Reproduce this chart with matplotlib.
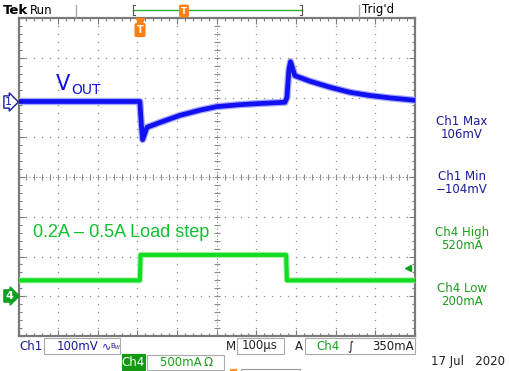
import numpy as np
import matplotlib
matplotlib.use('agg')
import matplotlib.pyplot as plt

plt.rcParams['font.family'] = ['DejaVu Sans']

# screen settings
ch1_scale = 100.0     # mV/div
ch4_scale = 500.0     # mA/div
time_scale = 100.0    # us/div
pre_trigger = 306.0   # us left of trigger
ch1_offset = 1.9      # div
ch4_offset = -3.0     # div

# Ch1 (Vout, AC) in mV vs time in us
t_ch1 = [-306, 0, 4, 7, 18, 50, 101, 151, 194, 252, 303, 366, 371, 376, 380, 391, 429, 479, 530, 580, 631, 694]
v_ch1 = [0, 0, -60, -96, -65, -53, -35, -22, -13, -8, -5, -2, 10, 80, 100, 65, 51, 36, 23, 15, 9, 3]

# Ch4 (load current) in mA vs time in us
t_ch4 = [-306, 0, 2, 369, 371, 694]
i_ch4 = [200, 200, 520, 520, 200, 200]

trig_level = 350  # mA

meas_labels = ['Ch1 Max', 'Ch1 Min', 'Ch4 High', 'Ch4 Low']
meas_values = ['106mV', '\u2212104mV', '520mA', '200mA']

W, H = 509, 371
fig = plt.figure(figsize=(W / 100, H / 100), dpi=100)
fig.patch.set_facecolor('white')

def fx(px):
    return px / W

def fy(py):
    return 1 - py / H

ax = fig.add_axes([fx(18.5), fy(336), (415 - 18.5) / W, (336 - 18) / H])
ax.set_xlim(0, 10)
ax.set_ylim(-4, 4)
for sp in ax.spines.values():
    sp.set_color('#7a7a7a')
    sp.set_linewidth(1.6)
ax.set_xticks(np.arange(0, 11, 1))
ax.set_yticks(np.arange(-4, 5, 1))
ax.set_xticks(np.arange(0, 10.01, 0.2), minor=True)
ax.set_yticks(np.arange(-4, 4.01, 0.2), minor=True)
ax.tick_params(which='both', direction='in', top=True, right=True,
               labelbottom=False, labelleft=False, color='#7a7a7a', width=0.8)
ax.tick_params(which='major', length=4)
ax.tick_params(which='minor', length=2.5)

# dotted graticule
gc = '#8c8c8c'
for gx in range(1, 10):
    if gx == 5:
        continue
    ys = np.arange(-4, 4.01, 0.2)
    ax.plot([gx] * len(ys), ys, ls='none', marker='s', ms=0.9, color=gc, mew=0)
for gy in range(-3, 4):
    if gy == 0:
        continue
    xs = np.arange(0, 10.01, 0.2)
    ax.plot(xs, [gy] * len(xs), ls='none', marker='s', ms=0.9, color=gc, mew=0)
# center cross
ax.plot([5, 5], [-4, 4], color=gc, lw=0.8, ls=(0, (1, 2)))
ax.plot([0, 10], [0, 0], color=gc, lw=0.8, ls=(0, (1, 2)))
cy = np.arange(-4, 4.01, 0.2)
ax.plot([5] * len(cy), cy, ls='none', marker='_', ms=5, color=gc, mew=0.8)
cx = np.arange(0, 10.01, 0.2)
ax.plot(cx, [0] * len(cx), ls='none', marker='|', ms=5, color=gc, mew=0.8)

# traces
x1 = (np.array(t_ch1) + pre_trigger) / time_scale
y1 = ch1_offset + np.array(v_ch1) / ch1_scale
x4 = (np.array(t_ch4) + pre_trigger) / time_scale
y4 = ch4_offset + np.array(i_ch4) / ch4_scale

ax.plot(x1, y1, color='#a8a8ff', lw=5.2, solid_joinstyle='round', zorder=3)
ax.plot(x1, y1, color='#1010f0', lw=3.4, solid_joinstyle='round', zorder=4)
ax.plot(x4, y4, color='#a8f0a8', lw=4.4, zorder=3)
ax.plot(x4, y4, color='#10dd20', lw=2.9, zorder=4)

ax.text(0.93, 2.35, 'V', color='#1010e0', fontsize=15, ha='left', va='center')
ax.text(1.33, 2.2, 'OUT', color='#1010e0', fontsize=10, ha='left', va='center')
ax.text(0.36, -1.4, '0.2A \u2013 0.5A Load step', color='#10c030', fontsize=13,
        ha='left', va='center', family='Liberation Sans')

# trigger level arrow
ax.plot([9.82], [ch4_offset + trig_level / ch4_scale], marker='<', ms=5, color='#10a020',
        clip_on=False)

# ground markers
fig.text(fx(5), fy(102), '1', color='#1a1aa0', fontsize=8, ha='left', va='center',
         bbox=dict(boxstyle='rarrow,pad=0.1', fc='white', ec='#1a1aa0', lw=1))
fig.text(fx(5), fy(296), '4', color='white', fontsize=8, ha='left', va='center',
         fontweight='bold',
         bbox=dict(boxstyle='rarrow,pad=0.1', fc='#10a020', ec='#10a020', lw=1))

# top status bar
fig.text(fx(3), fy(10), 'Tek', fontsize=9.5, fontweight='bold', ha='left', va='center')
fig.text(fx(30), fy(10), 'Run', fontsize=8.5, ha='left', va='center')
fig.text(fx(362), fy(10), "Trig'd", fontsize=8.5, ha='left', va='center')
for sx in [76, 359]:
    fig.add_artist(plt.Line2D([fx(sx), fx(sx)], [fy(5), fy(17)], color='#aaaaaa', lw=1))
fig.add_artist(plt.Line2D([fx(133), fx(302)], [fy(10), fy(10)], color='#30b030', lw=1))
for bx, d in [(133, 1), (302, -1)]:
    fig.add_artist(plt.Line2D([fx(bx), fx(bx), fx(bx + 2 * d)], [fy(5), fy(15), fy(15)],
                              color='#555555', lw=0.8))
    fig.add_artist(plt.Line2D([fx(bx), fx(bx + 2 * d)], [fy(5), fy(5)], color='#555555', lw=0.8))
fig.text(fx(184), fy(11), 'T', color='white', fontsize=6, fontweight='bold', ha='center',
         va='center', bbox=dict(boxstyle='round,pad=0.15', fc='#ff8010', ec='#ff8010'))
fig.text(fx(140), fy(30), 'T', color='white', fontsize=7, fontweight='bold', ha='center',
         va='center', bbox=dict(boxstyle='round,pad=0.15', fc='#ff8010', ec='#ff8010'))
fig.add_artist(plt.Line2D([fx(140)], [fy(22)], marker='v', ms=6, color='#ff8010'))

# measurements
meas_y = [128, 183, 239, 295]
meas_col = ['#1a1a9a', '#1a1a9a', '#18a018', '#18a018']
for lab, val, my, mc in zip(meas_labels, meas_values, meas_y, meas_col):
    fig.text(fx(462), fy(my), lab + '\n' + val, color=mc, fontsize=8.5, ha='center',
             va='center', linespacing=0.95)

# bottom readout
def box(x0, x1, y0, y1, fc='white', ec='#aaaaaa'):
    fig.add_artist(plt.Rectangle((fx(x0), fy(y1)), fx(x1 - x0), (y1 - y0) / H,
                                 fc=fc, ec=ec, lw=0.8))

ry = 346
box(44, 120, 338, 354)
box(237, 284, 338, 354)
box(305, 415, 338, 354)
fig.text(fx(19), fy(ry), 'Ch1', color='#1a1a9a', fontsize=8.5, ha='left', va='center')
fig.text(fx(57), fy(ry), '100mV', color='#1a1a9a', fontsize=8.5, ha='left', va='center')
fig.text(fx(102), fy(ry), '\u223f', color='#1a1a9a', fontsize=8, ha='left', va='center')
fig.text(fx(110), fy(ry + 1), 'B$_W$', color='#1a1a9a', fontsize=5, ha='left', va='center')
fig.text(fx(231), fy(ry), 'M', color='#222222', fontsize=8.5, ha='center', va='center')
fig.text(fx(260), fy(ry), '100\u00b5s', color='#222222', fontsize=8.5, ha='center', va='center')
fig.text(fx(299), fy(ry), 'A', color='#222222', fontsize=8.5, ha='center', va='center')
fig.text(fx(316), fy(ry), 'Ch4', color='#18a018', fontsize=8.5, ha='left', va='center')
fig.text(fx(350), fy(ry), '\u222b', color='#111111', fontsize=8.5, ha='center', va='center')
fig.text(fx(414), fy(ry), '350mA', color='#222222', fontsize=8.5, ha='right', va='center')

ry2 = 362
box(122, 145, 354, 370, fc='#119a11', ec='#119a11')
box(147, 224, 355, 370)
fig.text(fx(133.5), fy(ry2), 'Ch4', color='white', fontsize=8.5, ha='center', va='center')
fig.text(fx(160), fy(ry2), '500mA\u2009\u03a9', color='#18a018', fontsize=8.5, ha='left',
         va='center')
fig.text(fx(505), fy(ry2), '17 Jul   2020', color='#222222', fontsize=8.5, ha='right',
         va='center')
box(230, 236, 369, 374, fc='#ff9030', ec='#ff9030')
box(241, 300, 369, 374, ec='#999999')

fig.savefig('out.png', dpi=100)
